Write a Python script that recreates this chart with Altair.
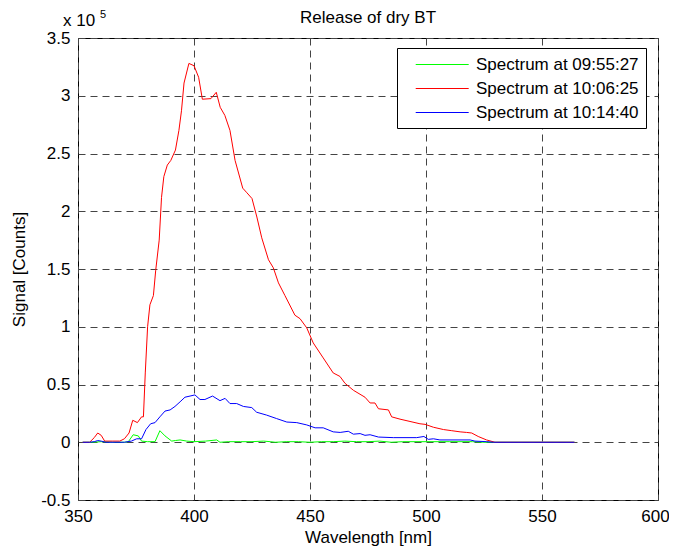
import altair as alt
import pandas as pd

# Wavelength [nm] and signal [x 1e5 counts]
green_wl = [352, 356, 360, 365, 370, 371.7, 373.8, 376, 377.4, 380, 383.2, 385.3, 387.5, 390.4, 392, 394,
            396.9, 400, 405, 409.8, 411.2, 415, 420, 425, 430, 432.8, 435, 440, 445, 450, 455, 460, 465,
            470, 475, 480, 485, 490, 500, 510, 520, 525, 564]
green_v = [0, 0, 0.005, 0.0, 0.0, 0.005, 0.065, 0.055, 0.01, 0.005, 0.005, 0.10, 0.055, 0.01, 0.015, 0.02,
           0.01, 0.005, 0.01, 0.02, 0.0, 0.005, 0.005, 0.005, 0.01, 0.005, 0.0, 0.005, 0.005, 0.0, 0.005,
           0.005, 0.01, 0.005, 0.005, 0.01, 0.0, 0.005, 0.005, 0.005, 0.005, 0.0, 0.0]

red_wl = [352, 355, 357, 358.5, 360, 361.5, 365, 368, 370, 372, 373.6, 375.6, 377.4, 378.2, 379, 380,
          381, 382.5, 383.5, 385, 386, 387, 388.5, 390, 392, 393.5, 394.6, 395.7, 397.8, 400, 402,
          403.6, 407.3, 409.6, 411.3, 413.3, 415.5, 417.7, 421, 422.8, 425, 427.1, 429.2, 432.1, 434.2,
          436.4, 439.2, 443.5, 445.7, 448.6, 451.4, 455.7, 460, 462.9, 465.1, 468.7, 473.7, 475.9, 478,
          479.5, 483.8, 485.2, 488.8, 493.1, 497.4, 499.6, 503.2, 507.5, 511.1, 514.7, 517.5, 519.7,
          522.5, 526.1, 529.7, 564]
red_v = [0.0, 0.0, 0.04, 0.08, 0.06, 0.01, 0.01, 0.01, 0.03, 0.08, 0.19, 0.17, 0.22, 0.22, 0.6, 1.0,
         1.19, 1.27, 1.49, 1.75, 2.12, 2.30, 2.40, 2.44, 2.53, 2.70, 2.87, 3.11, 3.28, 3.26, 3.16,
         2.97, 2.975, 3.03, 2.90, 2.83, 2.70, 2.44, 2.20, 2.16, 2.11, 1.95, 1.77, 1.58, 1.51,
         1.38, 1.27, 1.10, 1.07, 0.99, 0.86, 0.73, 0.60, 0.57, 0.51, 0.45, 0.39, 0.34, 0.34,
         0.29, 0.28, 0.22, 0.20, 0.18, 0.16, 0.155, 0.13, 0.11, 0.10, 0.09, 0.085, 0.08,
         0.05, 0.02, 0.0, 0.0]

blue_wl = [352, 355, 357, 358.5, 360, 362, 370, 373, 375.3, 377.4, 379.3, 381.3, 383.2, 385.3, 387.5,
           389.7, 391.8, 394, 396.1, 398.3, 400.4, 402.6, 404.7, 408, 411.2, 413.4, 415.5, 418.4, 421.3,
           424.9, 427, 431.3, 435.6, 440, 444.3, 448.6, 452.2, 455.7, 460, 463, 466.5, 468.7, 471.6,
           473.7, 475.9, 479.5, 485.9, 496, 499.1, 501, 503.2, 506, 519, 521.1, 526.2, 529, 564]
blue_v = [0, 0, 0.005, 0.015, 0.01, 0.0, 0.0, 0.01, 0.03, 0.03, 0.11, 0.16, 0.17, 0.22, 0.27,
          0.28, 0.31, 0.35, 0.39, 0.40, 0.41, 0.37, 0.37, 0.40, 0.36, 0.38, 0.335, 0.335, 0.31,
          0.30, 0.26, 0.235, 0.205, 0.175, 0.17, 0.15, 0.125, 0.125, 0.09, 0.085, 0.095, 0.07, 0.075,
          0.06, 0.065, 0.045, 0.04, 0.04, 0.05, 0.025, 0.03, 0.02, 0.02, 0.01, 0.005, 0.0, 0.0]

series_names = ["Spectrum at 09:55:27", "Spectrum at 10:06:25", "Spectrum at 10:14:40"]
series_colors = ["#00ff00", "#ff0000", "#0000ff"]
x_ticks = [350, 400, 450, 500, 550, 600]
y_ticks = [-0.5, 0, 0.5, 1, 1.5, 2, 2.5, 3, 3.5]
title_text = "Release of dry BT"

rows = []
for k, (wl, vv) in enumerate([(green_wl, green_v), (red_wl, red_v), (blue_wl, blue_v)]):
    for i, (w, v) in enumerate(zip(wl, vv)):
        rows.append({"series": series_names[k], "order": k, "idx": i, "wl": w, "v": v})
df = pd.DataFrame(rows)

FONT = "Liberation Sans"

lines = alt.Chart(df).mark_line(strokeWidth=1, clip=True).encode(
    x=alt.X("wl:Q", scale=alt.Scale(domain=[350, 600], nice=False, zero=False),
            axis=alt.Axis(values=x_ticks, title="Wavelength [nm]", format="d", labelFlush=False,
                          labelOffset={"condition": {"test": "datum.value == 600", "value": -3},
                                       "value": 0})),
    y=alt.Y("v:Q", scale=alt.Scale(domain=[-0.5, 3.5], nice=False, zero=False),
            axis=alt.Axis(values=y_ticks, title="Signal [Counts]", labelExpr="'' + datum.value",
                          labelFlush=False)),
    color=alt.Color("series:N", scale=alt.Scale(domain=series_names, range=series_colors),
                    legend=alt.Legend(title=None, orient="none", legendX=319, legendY=10,
                                      symbolType="M0.25,0H6.25", symbolSize=312, symbolStrokeWidth=1,
                                      labelFontSize=17, labelFont=FONT, labelColor="black",
                                      labelLimit=0, labelOffset=53, padding=7, rowPadding=6,
                                      strokeColor="black", fillColor="white")),
    detail="order:O",
    order="idx:Q",
)

title_mark = alt.Chart(pd.DataFrame({"t": [title_text]})).mark_text(
    font=FONT, fontSize=17, align="center", baseline="alphabetic", color="black"
).encode(x=alt.value(290), y=alt.value(-15), text="t:N")
exp_base = alt.Chart(pd.DataFrame({"t": ["x 10"]})).mark_text(
    font=FONT, fontSize=17, align="left", baseline="alphabetic", color="black"
).encode(x=alt.value(-15), y=alt.value(-12), text="t:N")
exp_sup = alt.Chart(pd.DataFrame({"t": ["5"]})).mark_text(
    font=FONT, fontSize=11, align="left", baseline="alphabetic", color="black"
).encode(x=alt.value(22), y=alt.value(-20), text="t:N")

chart = alt.layer(lines, title_mark, exp_base, exp_sup).properties(
    width=580, height=462,
    autosize=alt.AutoSizeParams(type="none"),
    padding={"left": 70, "top": 30, "right": 11, "bottom": 60},
).configure_view(
    stroke="black", strokeWidth=1
).configure_axis(
    grid=True, gridDash=[7, 5], gridColor="#444444", gridWidth=1, gridOpacity=1,
    ticks=False, domain=False,
    labelFont=FONT, labelFontSize=17, labelColor="black",
    titleFont=FONT, titleFontSize=17, titleFontWeight="normal", titleColor="black",
).configure_axisX(
    labelPadding=8, titlePadding=5
).configure_axisY(
    labelPadding=8, titlePadding=12
)

chart.save("out.html", embed_options={"renderer": "svg", "actions": False})
